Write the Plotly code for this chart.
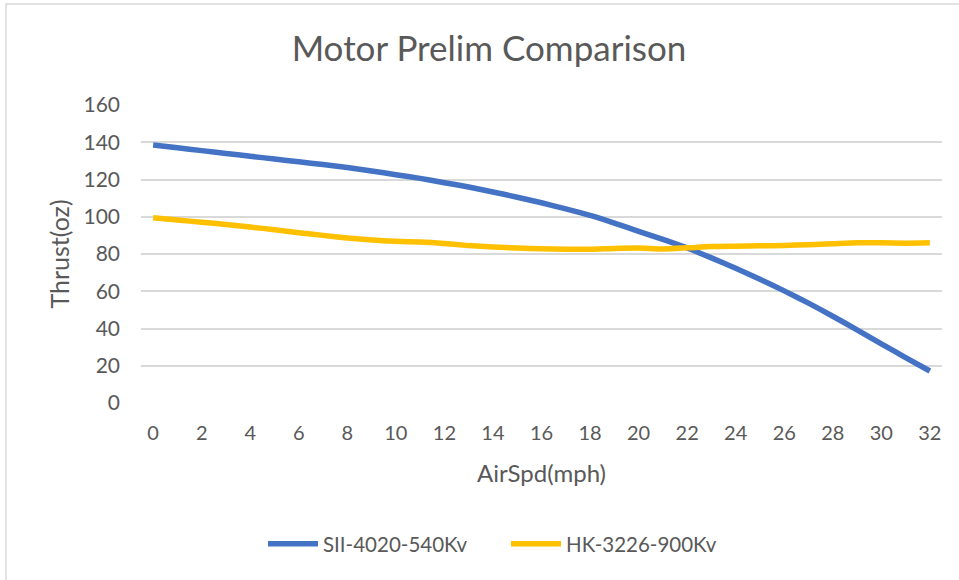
import plotly.graph_objects as go

# Air speed (mph) and thrust readings (oz) for two motors
air_speed = list(range(0, 33))

sii_4020_540kv = [138.5, 137.0, 135.5, 134.0, 132.5, 131.0, 129.5, 128.0, 126.4, 124.6,
                  122.6, 120.6, 118.3, 116.0, 113.3, 110.5, 107.5, 104.2, 100.7, 96.6,
                  92.2, 87.8, 83.2, 77.9, 72.3, 66.4, 60.2, 53.6, 46.6, 39.3,
                  31.8, 24.4, 17.2]

hk_3226_900kv = [99.5, 98.3, 97.0, 95.9, 94.5, 93.0, 91.4, 90.0, 88.6, 87.5,
                 86.8, 86.4, 85.6, 84.5, 83.8, 83.2, 82.8, 82.6, 82.6, 83.0,
                 83.2, 82.7, 83.3, 84.0, 84.2, 84.4, 84.6, 85.0, 85.5, 86.0,
                 86.0, 85.8, 86.0]

series_names = ["SII-4020-540Kv", "HK-3226-900Kv"]
series_colors = ["#4472C4", "#FFC000"]

x_ticks = list(range(0, 33, 2))
y_ticks = list(range(0, 161, 20))

FONT = "Lato, 'Open Sans', sans-serif"
TEXT = "#595959"
GRID = "#D9D9D9"

fig = go.Figure()
for name, vals, color in zip(series_names, [sii_4020_540kv, hk_3226_900kv], series_colors):
    fig.add_trace(go.Scatter(
        x=air_speed, y=vals, name=name, mode="lines",
        line=dict(color=color, width=5.5, shape="spline", smoothing=0.6),
        hoverinfo="x+y+name",
    ))

fig.update_layout(
    width=959, height=580,
    paper_bgcolor="white", plot_bgcolor="white",
    margin=dict(l=141, r=17, t=105, b=177),
    font=dict(family=FONT, color=TEXT, size=20),
    title=dict(text="Motor Prelim Comparison", x=489 / 959, xref="container",
               y=1 - 49 / 580, yref="container", xanchor="center", yanchor="middle",
               font=dict(family=FONT, size=35, color=TEXT)),
    showlegend=True,
    legend=dict(orientation="h", x=(263 - 141) / 801, xanchor="left",
                y=(403 - 544) / 298, yanchor="middle",
                font=dict(family=FONT, size=20.5, color=TEXT),
                itemwidth=50, entrywidth=178, bgcolor="rgba(0,0,0,0)"),
    shapes=[dict(type="rect", xref="paper", yref="paper",
                 x0=(6 - 141) / 801, x1=(975 - 141) / 801,
                 y0=(403 - 595) / 298, y1=(403 - 4) / 298,
                 line=dict(color=GRID, width=1.5), layer="below")],
)

fig.update_xaxes(
    range=[-0.5, 32.5], tickmode="array", tickvals=x_ticks,
    ticktext=[str(v) for v in x_ticks],
    showgrid=False, zeroline=False, showline=False, ticks="",
    ticklabelstandoff=16, tickfont=dict(size=20, color=TEXT),
    title=dict(text="AirSpd(mph)", standoff=22, font=dict(size=24, color=TEXT)),
)
fig.update_yaxes(
    range=[0, 160], tickmode="array", tickvals=y_ticks,
    showgrid=True, gridcolor=GRID, gridwidth=1.5, zeroline=False,
    showline=False, ticks="", ticklabelstandoff=20,
    tickfont=dict(size=21, color=TEXT),
    title=dict(text="Thrust(oz)", standoff=6, font=dict(size=25, color=TEXT)),
)

fig.write_html("out.html")
